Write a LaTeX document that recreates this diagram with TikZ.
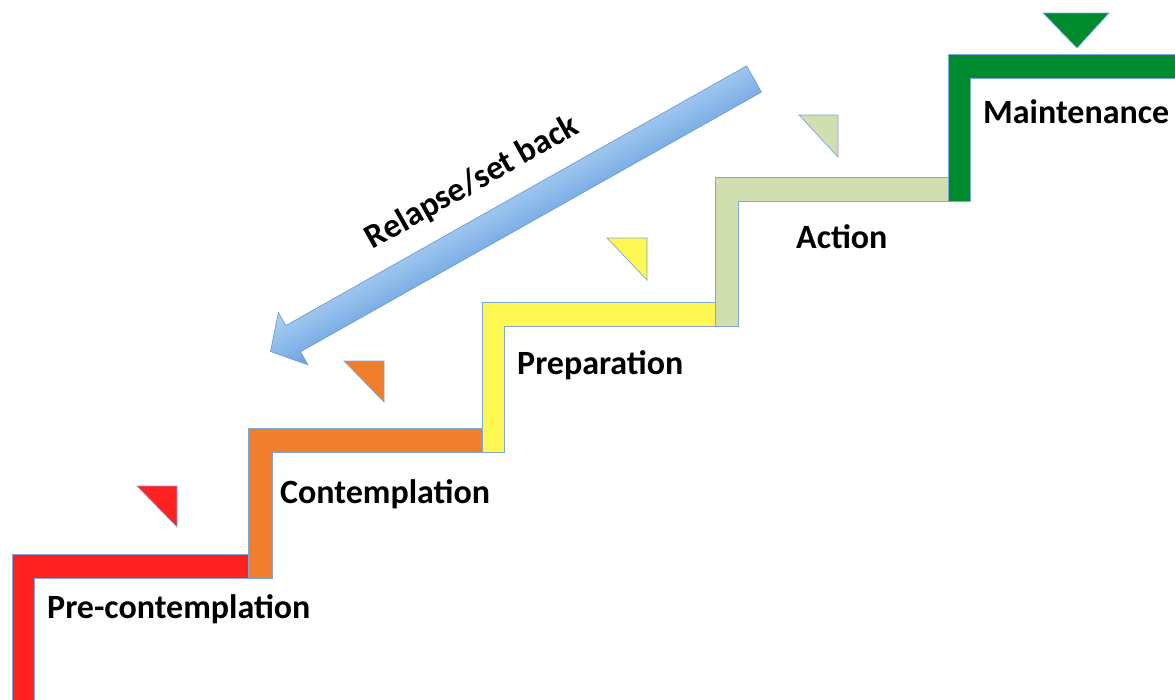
\documentclass[tikz,border=0pt]{standalone}
\usepackage{fontspec}
\setmainfont{Carlito}
\definecolor{stepred}{HTML}{FF2020}
\definecolor{steporange}{HTML}{EF7F2C}
\definecolor{stepyellow}{HTML}{FFF852}
\definecolor{steplgreen}{HTML}{D0DEB0}
\definecolor{stepdgreen}{HTML}{008A2E}
\definecolor{outlineblue}{HTML}{7FA7D8}
\definecolor{arrowlight}{HTML}{AED0F4}
\definecolor{arrowdark}{HTML}{6BA3E0}
\definecolor{arrowedge}{HTML}{6A9DD6}
\begin{document}
\begin{tikzpicture}[x=1pt,y=-1pt,
  edge/.style={draw=outlineblue, line width=0.7pt, line join=miter},
  stagetext/.style={font=\fontsize{34}{40}\selectfont\bfseries, inner sep=0pt, anchor=base west}]
\useasboundingbox (0,0) rectangle (1175,699);
\fill[white] (0,0) rectangle (1175,699);

% stair steps, each an inverted L
\path[edge, fill=stepred]    (12,710)  -- (12,554)  -- (248,554)  -- (248,578) -- (34,578)  -- (34,710)  -- cycle;
\path[edge, fill=steporange] (248,578) -- (248,428) -- (482,428)  -- (482,452) -- (272,452) -- (272,578) -- cycle;
\path[edge, fill=stepyellow] (482,452) -- (482,302) -- (715,302)  -- (715,326) -- (504,326) -- (504,452) -- cycle;
\path[edge, fill=steplgreen] (715,326) -- (715,177) -- (948,177)  -- (948,201) -- (738,201) -- (738,326) -- cycle;
\path[edge, fill=stepdgreen] (948,201) -- (948,54)  -- (1185,54)  -- (1185,78) -- (970,78)  -- (970,201) -- cycle;

% step markers
\path[edge, fill=stepred]    (137,486) -- (177,486) -- (177,527) -- cycle;
\path[edge, fill=steporange] (344,361) -- (384,361) -- (384,402) -- cycle;
\path[edge, fill=stepyellow] (607,238) -- (647,238) -- (647,280) -- cycle;
\path[edge, fill=steplgreen] (799,115) -- (838,115) -- (838,157) -- cycle;
\path[edge, fill=stepdgreen] (1043,13) -- (1109,13) -- (1077,48) -- cycle;

% relapse arrow, drawn along its own axis
\begin{scope}[y=1pt, transform canvas={shift={(754pt,-79pt)}, rotate=29.4}]
  \path[draw=arrowedge, line width=0.7pt, line join=miter,
        top color=arrowlight, bottom color=arrowdark]
    (0,15) -- (-529,15) -- (-529,30) -- (-555,0) -- (-529,-30) -- (-529,-15) -- (0,-15) -- cycle;
\end{scope}

% labels
\node[stagetext, anchor=base, rotate=29.4] (relapse) at (477,191) {Relapse/set back};
\node[stagetext] (pre)   at (47,618)  {Pre-contemplation};
\node[stagetext] (cont)  at (280,503) {Contemplation};
\node[stagetext] (prep)  at (517,374) {Preparation};
\node[stagetext] (act)   at (796,248) {Action};
\node[stagetext] (maint) at (983,123) {Maintenance};
\end{tikzpicture}
\end{document}
